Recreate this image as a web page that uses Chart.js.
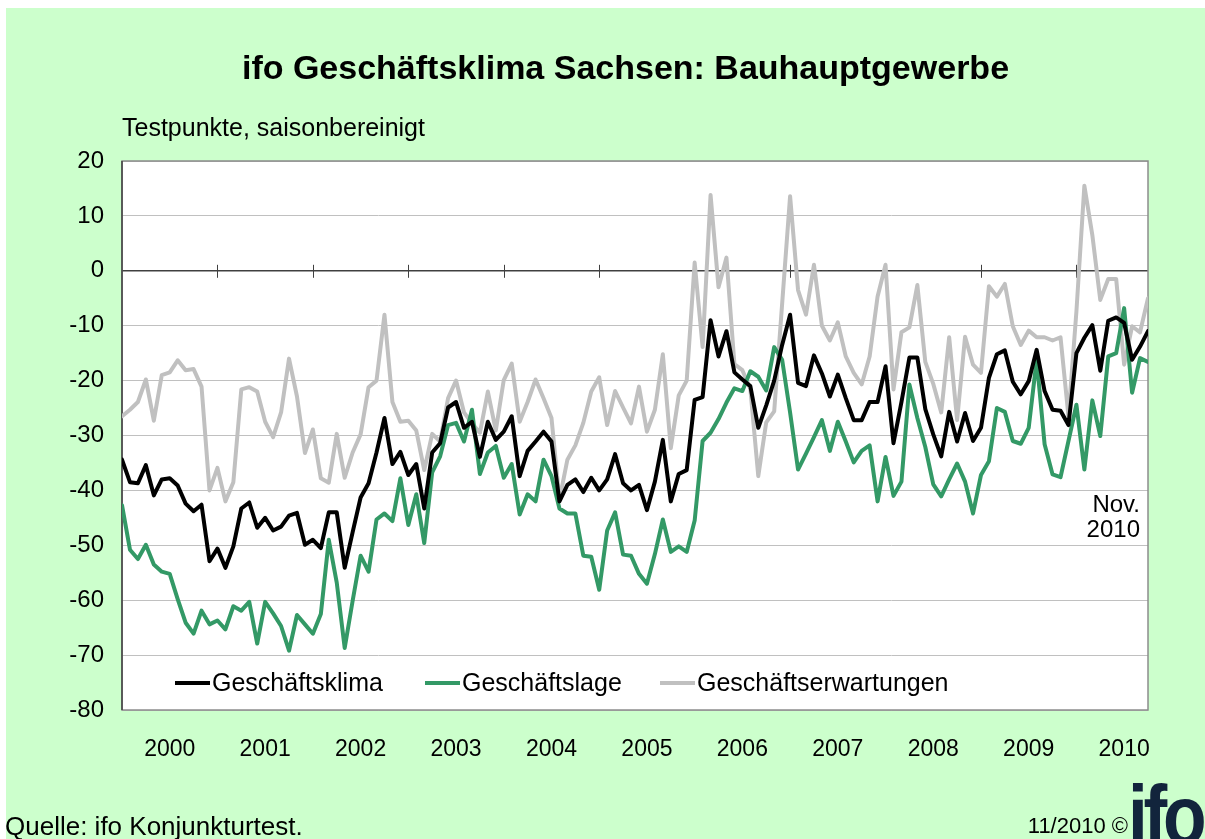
<!DOCTYPE html>
<html lang="de">
<head>
<meta charset="utf-8">
<title>ifo Geschäftsklima Sachsen: Bauhauptgewerbe</title>
<script src="https://cdn.jsdelivr.net/npm/chart.js@4.4.1/dist/chart.umd.min.js"></script>
<style>
    html, body { margin: 0; padding: 0; background: #fff; }
    body { width: 1205px; height: 839px; overflow: hidden; position: relative;
           font-family: 'Liberation Sans', Arial, sans-serif; }
    #frame { position: absolute; left: 6px; top: 8px; right: 0; bottom: 0; background: #ccffcc; }
    #chart { position: absolute; left: 0; top: 0; }
    .txt { position: absolute; white-space: nowrap; color: #000; line-height: 1; }
    #title { left: 0; width: 1251px; text-align: center; top: 50px; font-weight: bold; font-size: 34px; }
    #sub { left: 122px; top: 115px; font-size: 25px; }
    #src { left: 5px; top: 813px; font-size: 26px; }
    #date { right: 77px; top: 815px; font-size: 22px; }
    #logo { left: 1128px; top: 773px; font-size: 84px; font-weight: bold; color: #12243c;
            letter-spacing: -5px; transform: scaleX(0.85); transform-origin: left top; }
    #nov { right: 65px; top: 491px; font-size: 24px; line-height: 25px; text-align: right; }
</style>
</head>
<body>
<div id="frame"></div>
<canvas id="chart" width="1205" height="839"></canvas>
<div class="txt" id="title">ifo Geschäftsklima Sachsen: Bauhauptgewerbe</div>
<div class="txt" id="sub">Testpunkte, saisonbereinigt</div>
<div class="txt" id="nov">Nov.<br>2010</div>
<div class="txt" id="src">Quelle: ifo Konjunkturtest.</div>
<div class="txt" id="date">11/2010 ©</div>
<div class="txt" id="logo">ifo</div>
<script>
// monthly values, Jan 2000 onwards
var years = ['2000', '2001', '2002', '2003', '2004', '2005', '2006', '2007', '2008', '2009', '2010'];

var klima = [
    -34.4, -38.5, -38.7, -35.4, -40.9, -38.0, -37.8, -39.1, -42.4, -43.8, -42.6, -52.9,
    -50.6, -54.1, -50.2, -43.3, -42.2, -46.8, -45.0, -47.3, -46.6, -44.6, -44.1, -49.9,
    -49.0, -50.5, -44.0, -44.0, -54.1, -47.6, -41.3, -38.7, -33.1, -26.8, -35.2, -33.0,
    -37.2, -35.2, -43.3, -33.1, -31.4, -24.9, -23.9, -28.6, -27.5, -33.9, -27.5, -30.8,
    -29.3, -26.5, -37.4, -32.8, -31.1, -29.3, -31.1, -42.0, -39.0, -38.0, -40.3, -37.7,
    -40.0, -38.0, -33.4, -38.7, -40.0, -39.0, -43.6, -38.4, -30.8, -42.0, -37.0, -36.3,
    -23.5, -23.0, -9.0, -15.6, -11.0, -18.5, -19.8, -21.0, -28.6, -24.5, -20.0, -13.5,
    -8.0, -20.4, -21.0, -15.4, -18.7, -22.9, -18.9, -23.2, -27.2, -27.2, -23.9, -23.9,
    -17.4, -31.4, -23.9, -15.8, -15.8, -25.2, -29.8, -33.8, -25.7, -31.1, -25.9, -31.0,
    -28.6, -19.5, -15.2, -14.5, -20.2, -22.5, -20.1, -14.4, -21.9, -25.3, -25.5, -28.1,
    -15.0, -12.2, -9.9, -18.2, -9.1, -8.5, -9.5, -16.2, -13.8, -11.0
];

var lage = [
    -42.7, -50.8, -52.5, -49.9, -53.5, -54.8, -55.2, -59.8, -64.1, -66.1, -61.9, -64.4,
    -63.7, -65.3, -61.1, -61.9, -60.3, -67.9, -60.3, -62.4, -64.7, -69.2, -62.7, -64.4,
    -66.1, -62.5, -49.0, -56.8, -68.7, -60.1, -51.9, -54.8, -45.3, -44.2, -45.6, -37.8,
    -46.3, -40.7, -49.6, -36.7, -33.8, -28.1, -27.7, -31.1, -25.3, -37.0, -33.1, -31.9,
    -37.7, -35.2, -44.4, -40.7, -42.0, -34.4, -37.4, -43.3, -44.2, -44.2, -51.9, -52.1,
    -58.1, -47.3, -44.0, -51.7, -51.9, -55.2, -57.0, -51.6, -45.3, -51.2, -50.2, -51.2,
    -45.5, -31.0, -29.5, -27.0, -24.0, -21.4, -21.9, -18.3, -19.3, -21.8, -13.9, -16.2,
    -25.8, -36.2, -33.3, -30.3, -27.2, -32.8, -27.5, -31.1, -34.9, -32.8, -31.8, -42.0,
    -33.9, -41.0, -38.4, -20.7, -26.8, -32.1, -38.9, -41.1, -38.0, -35.1, -38.4, -44.2,
    -37.2, -34.7, -25.0, -25.7, -31.0, -31.5, -28.6, -16.2, -31.6, -37.1, -37.6, -31.0,
    -24.4, -36.2, -23.6, -30.1, -15.6, -15.0, -6.8, -22.2, -15.9, -16.6
];

var erwartungen = [
    -26.5, -25.3, -23.9, -19.8, -27.3, -19.0, -18.5, -16.3, -18.1, -17.9, -21.1, -40.0,
    -35.9, -42.0, -38.5, -21.6, -21.2, -22.0, -27.5, -30.3, -25.8, -16.0, -22.9, -33.2,
    -28.9, -37.8, -38.6, -29.7, -37.7, -33.1, -29.8, -21.2, -20.0, -8.0, -23.9, -27.5,
    -27.3, -29.1, -36.3, -29.7, -31.1, -23.2, -20.0, -25.8, -27.8, -29.5, -22.0, -29.1,
    -19.9, -16.9, -27.5, -23.9, -19.8, -23.2, -26.8, -41.7, -34.4, -31.8, -27.7, -22.0,
    -19.4, -28.1, -21.9, -24.9, -27.8, -21.1, -29.3, -25.3, -15.2, -32.3, -22.7, -20.0,
    1.5, -13.9, 13.8, -3.0, 2.4, -17.0, -18.1, -21.5, -37.4, -27.6, -25.6, -6.0,
    13.6, -3.5, -8.0, 1.1, -10.0, -12.7, -9.4, -15.6, -18.6, -20.7, -15.6, -4.7,
    1.1, -21.6, -11.2, -10.3, -2.6, -16.6, -20.6, -25.8, -12.1, -27.2, -12.0, -17.1,
    -18.6, -2.8, -4.7, -2.4, -10.1, -13.5, -10.9, -12.1, -12.1, -12.7, -12.1, -26.5,
    -7.4, 15.5, 6.5, -5.3, -1.5, -1.5, -17.1, -10.1, -11.2, -5.0
];

function toPoints(arr) {
    return arr.map(function (v, i) { return { x: i, y: v }; });
}

var FONT = "'Liberation Sans', Arial, sans-serif";
var legendStart = [175, 425, 660];

var decor = {
    id: 'decor',
    beforeDraw: function (chart) {
        var a = chart.chartArea, ctx = chart.ctx;
        ctx.save();
        ctx.fillStyle = '#fff';
        ctx.fillRect(a.left, a.top, a.right - a.left, a.bottom - a.top);
        ctx.restore();
    },
    beforeDatasetsDraw: function (chart) {
        var a = chart.chartArea, ctx = chart.ctx;
        var xs = chart.scales.x, y0 = chart.scales.y.getPixelForValue(0);
        ctx.save();
        // plot frame
        ctx.strokeStyle = '#8c8c8c';
        ctx.lineWidth = 1.5;
        ctx.strokeRect(a.left, a.top, a.right - a.left, a.bottom - a.top);
        ctx.strokeStyle = '#404040';
        ctx.lineWidth = 1.5;
        ctx.beginPath();
        ctx.moveTo(a.left, a.top);
        ctx.lineTo(a.left, a.bottom);
        ctx.stroke();
        // year marks on the zero line
        ctx.lineWidth = 1;
        ctx.beginPath();
        for (var i = 1; i < years.length; i++) {
            var px = Math.round(xs.getPixelForValue(12 * i)) + 0.5;
            ctx.moveTo(px, y0 - 6);
            ctx.lineTo(px, y0 + 7);
        }
        ctx.stroke();
        ctx.restore();
    },
    afterDraw: function (chart) {
        var ctx = chart.ctx, y = 683;
        ctx.save();
        ctx.font = '25px ' + FONT;
        ctx.textBaseline = 'middle';
        chart.data.datasets.forEach(function (ds, i) {
            var x = legendStart[i];
            ctx.strokeStyle = ds.borderColor;
            ctx.lineWidth = 4;
            ctx.beginPath();
            ctx.moveTo(x, y);
            ctx.lineTo(x + 35, y);
            ctx.stroke();
            ctx.fillStyle = '#000';
            ctx.fillText(ds.label, x + 37, y + 1);
        });
        ctx.restore();
    }
};

new Chart(document.getElementById('chart'), {
    type: 'line',
    data: {
        datasets: [{
            label: 'Geschäftsklima',
            data: toPoints(klima),
            borderColor: '#000000'
        }, {
            label: 'Geschäftslage',
            data: toPoints(lage),
            borderColor: '#339966'
        }, {
            label: 'Geschäftserwartungen',
            data: toPoints(erwartungen),
            borderColor: '#c0c0c0'
        }]
    },
    options: {
        responsive: false,
        animation: false,
        devicePixelRatio: 1,
        layout: { padding: { left: 0, right: 57, top: 161, bottom: 0 } },
        elements: {
            line: { borderWidth: 4, tension: 0, borderJoinStyle: 'round', borderCapStyle: 'round' },
            point: { radius: 0 }
        },
        plugins: {
            legend: { display: false },
            tooltip: { enabled: false }
        },
        scales: {
            x: {
                type: 'linear',
                min: 0,
                max: klima.length - 1,
                grid: { display: false, drawTicks: false },
                border: { display: false },
                afterBuildTicks: function (s) {
                    s.ticks = years.map(function (y, i) { return { value: 6 + 12 * i }; });
                },
                ticks: {
                    autoSkip: false,
                    maxRotation: 0,
                    padding: 26,
                    color: '#000',
                    font: { family: FONT, size: 23 },
                    callback: function (v, i) { return years[i]; }
                },
                afterFit: function (s) { s.height = 129; }
            },
            y: {
                min: -80,
                max: 20,
                ticks: {
                    stepSize: 10,
                    padding: 18,
                    color: '#000',
                    font: { family: FONT, size: 24 }
                },
                grid: {
                    drawTicks: false,
                    color: function (c) { return c.tick && c.tick.value === 0 ? '#404040' : '#c0c0c0'; },
                    lineWidth: function (c) { return c.tick && c.tick.value === 0 ? 1.5 : 1; }
                },
                border: { display: false },
                afterFit: function (s) { s.width = 122; }
            }
        }
    },
    plugins: [decor]
});
</script>
</body>
</html>
